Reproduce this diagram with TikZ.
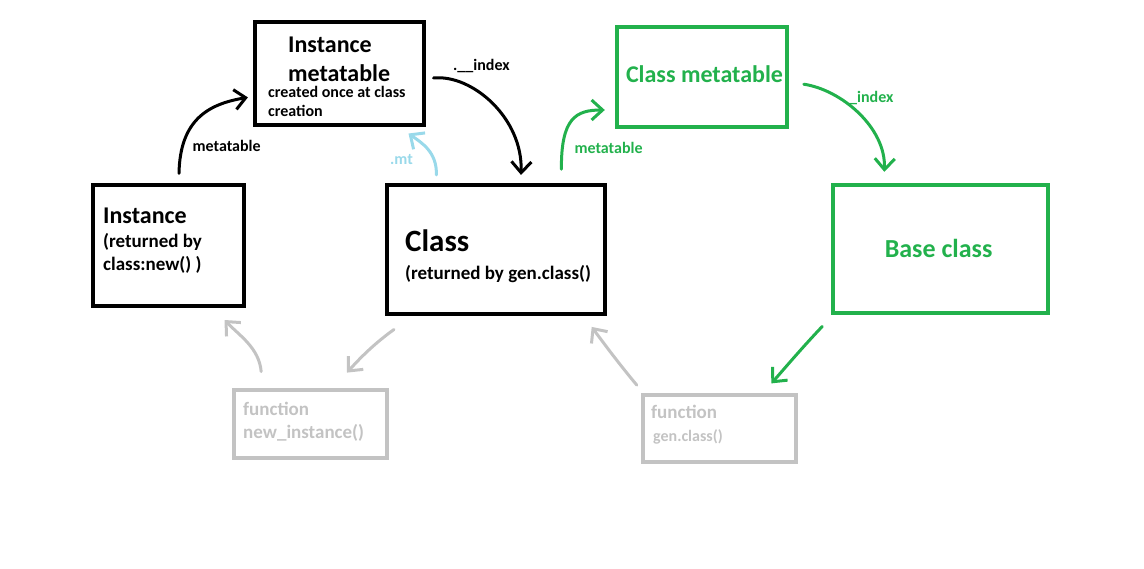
\documentclass[tikz,border=0pt]{standalone}
\usepackage{fontspec}
\setmainfont{Carlito}
\usetikzlibrary{arrows.meta}
\definecolor{pgreen}{HTML}{22B14C}
\definecolor{pgray}{HTML}{C3C3C3}
\definecolor{pblue}{HTML}{99D9EA}

\begin{document}
\begin{tikzpicture}[x=1pt, y=-1pt, >={Straight Barb[length=11pt, width=20pt]},
    box/.style={draw, line width=4pt, inner sep=0pt},
    txt/.style={anchor=base west, inner sep=0pt},
    huge/.style={font=\bfseries\fontsize{31}{31}\selectfont},
    big/.style={font=\bfseries\fontsize{24}{24}\selectfont},
    mid/.style={font=\bfseries\fontsize{19}{19}\selectfont},
    small/.style={font=\bfseries\fontsize{16}{16}\selectfont},
    link/.style={->, line width=3pt, line cap=round, line join=round}]
  \useasboundingbox (0, 0) rectangle (1144, 568);
  \node[box, minimum width=169, minimum height=103] (imt) at (339, 73.4) {};
  \node[box, minimum width=151, minimum height=121] (inst) at (168, 245.8) {};
  \node[box, minimum width=218, minimum height=129] (cls) at (495.7, 249.7) {};
  \node[box, pgreen, minimum width=170, minimum height=100] (cmt) at (701.8, 77.2) {};
  \node[box, pgreen, minimum width=215, minimum height=128] (base) at (940.3, 248.8) {};
  \node[box, pgray, minimum width=153, minimum height=68] (fni) at (310.2, 424.2) {};
  \node[box, pgray, minimum width=153, minimum height=67] (fgc) at (719.3, 428.3) {};

  \node[txt, big] (imtA) at (288, 52.7) {Instance};
  \node[txt, big] (imtB) at (288, 81.7) {metatable};
  \node[txt, small] (imtC) at (268, 97.5) {created once at class};
  \node[txt, small] (imtD) at (268, 116.5) {creation};
  \node[txt, big] (instA) at (103, 223) {Instance};
  \node[txt, mid] (instB) at (103, 247) {(returned by};
  \node[txt, mid] (instC) at (103, 270.5) {class:new() )};
  \node[txt, huge] (clsA) at (405, 251.7) {Class};
  \node[txt, mid] (clsB) at (405, 279) {(returned by gen.class()};
  \node[big, pgreen, inner sep=0pt] (cmtA) at (704.5, 74.5) {Class metatable};
  \node[font=\bfseries\fontsize{26}{26}\selectfont, pgreen, inner sep=0pt] (baseA) at (938.6, 248.5) {Base class};
  \node[txt, mid, pgray] (fniA) at (243, 415) {function};
  \node[txt, mid, pgray] (fniB) at (243, 438.3) {new\_instance()};
  \node[txt, mid, pgray] (fgcA) at (651, 418.3) {function};
  \node[txt, small, pgray] (fgcB) at (653, 441.7) {gen.class()};

  \node[txt, small] (lmt) at (192.5, 151.7) {metatable};
  \node[txt, small] (lidx) at (453, 70) {.\_\_index};
  \node[txt, small, pblue] (lmtb) at (390, 164) {.mt};
  \node[txt, small, pgreen] (lmtg) at (574.4, 153.3) {metatable};
  \node[txt, small, pgreen] (lidxg) at (849, 102.7) {\_index};

  \draw[link] ([shift={(11,-10)}]inst.north) .. controls (180, 120) and (208, 104) .. ([shift={(-4.6,24)}]imt.west);
  \draw[link] ([shift={(8,4.6)}]imt.east) .. controls (472, 74) and (523, 118) .. ([shift={(25.3,-8.3)}]cls.north);
  \draw[link, pblue] ([shift={(-59.3,-8.3)}]cls.north) .. controls (437, 152) and (422, 143) .. ([shift={(69.5,6.6)}]imt.south);
  \draw[link, pgreen] ([shift={(65.7,-14)}]cls.north) .. controls (561, 118) and (576, 110) .. ([shift={(-10,32.8)}]cmt.west);
  \draw[link, pgreen] ([shift={(15,7)}]cmt.east) .. controls (842, 90) and (886, 128) .. ([shift={(-56,-11)}]base.north);
  \draw[link, pgreen] ([shift={(-8.6,11.7)}]base.south west) .. controls (800, 350) and (785, 368) .. ([shift={(52,-9.4)}]fgc.north);
  \draw[link, pgray] ([shift={(-49,-16.6)}]fni.north) .. controls (259, 348) and (240, 336) .. ([shift={(56.5,11.7)}]inst.south);
  \draw[link, pgray] ([shift={(9.3,13.3)}]cls.south west) .. controls (375, 343) and (360, 358) .. ([shift={(36.8,-15.6)}]fni.north);
  \draw[link, pgray] ([shift={(-4,-7.7)}]fgc.north west) .. controls (620, 365) and (605, 345) .. ([shift={(-15,10.7)}]cls.south east);
\end{tikzpicture}
\end{document}
